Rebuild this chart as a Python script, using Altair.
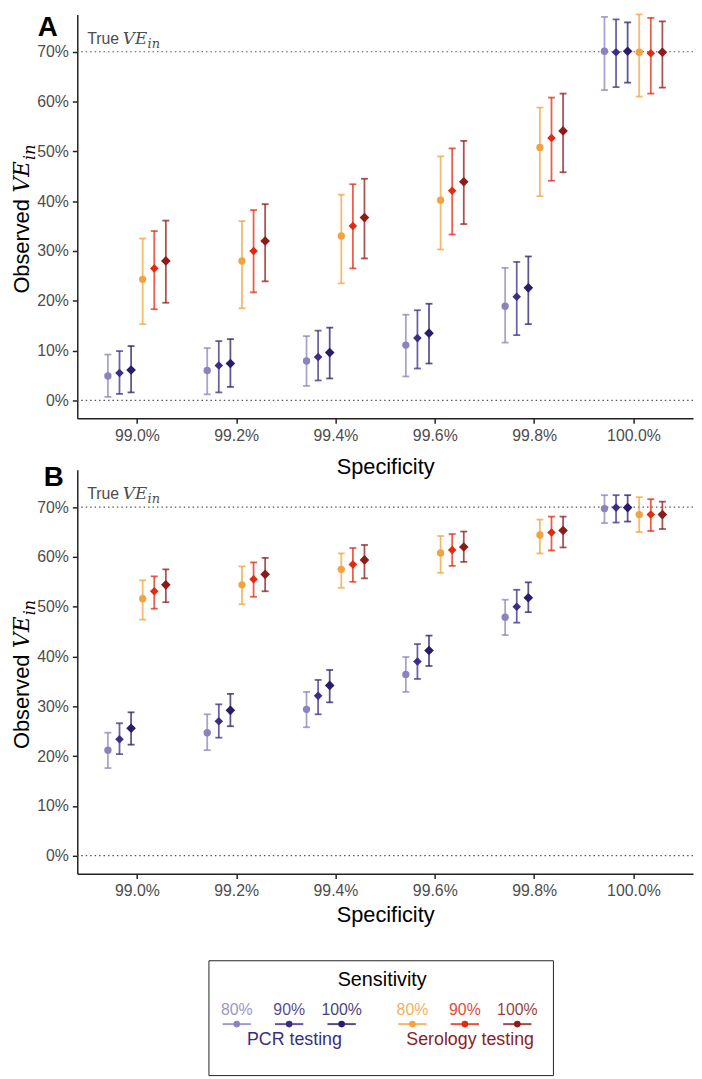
import altair as alt
import pandas as pd

specificity = ["99.0%", "99.2%", "99.4%", "99.6%", "99.8%", "100.0%"]
series = ["PCR 80%", "PCR 90%", "PCR 100%", "Serology 80%", "Serology 90%", "Serology 100%"]
sensitivity = ["80%", "90%", "100%", "80%", "90%", "100%"]
sens_levels = ["80%", "90%", "100%"]
testing = ["PCR testing"] * 3 + ["Serology testing"] * 3
testing_levels = ["PCR testing", "Serology testing"]
series_colors = ["#8a84bd", "#3e2d86", "#2a1c68", "#f2a33f", "#e3290f", "#8c1c1a"]
ref_lines = [0, 70]
y_ticks = [0, 10, 20, 30, 40, 50, 60, 70]

# (estimate, lower, upper) in %, one tuple per specificity level
A_PCR80 = [(4.9, 0.7, 9.2), (6.0, 1.2, 10.5), (7.9, 2.9, 12.9), (11.1, 4.8, 17.2), (18.9, 11.6, 26.6), (70.1, 62.3, 77.0)]
A_PCR90 = [(5.5, 1.3, 9.9), (7.0, 1.6, 11.9), (8.7, 4.0, 14.0), (12.5, 6.4, 18.1), (20.8, 13.1, 27.8), (69.9, 62.9, 76.5)]
A_PCR100 = [(6.1, 1.6, 10.9), (7.4, 2.7, 12.3), (9.6, 4.4, 14.6), (13.5, 7.4, 19.4), (22.6, 15.3, 28.9), (70.1, 63.8, 75.9)]
A_SER80 = [(24.3, 15.3, 32.5), (28.0, 18.5, 36.0), (33.0, 23.5, 41.3), (40.2, 30.3, 49.0), (50.8, 41.0, 58.8), (69.9, 61.0, 77.5)]
A_SER90 = [(26.5, 18.3, 34.0), (30.0, 21.7, 38.2), (35.0, 26.5, 43.4), (42.1, 33.3, 50.6), (52.7, 44.1, 60.8), (69.7, 61.6, 76.8)]
A_SER100 = [(28.0, 19.6, 36.1), (32.0, 23.9, 39.4), (36.7, 28.5, 44.5), (43.9, 35.4, 52.1), (54.1, 45.8, 61.6), (69.9, 62.8, 76.1)]

B_PCR80 = [(21.2, 17.6, 24.7), (24.7, 21.2, 28.4), (29.4, 25.8, 32.9), (36.4, 32.9, 39.9), (47.9, 44.3, 51.4), (69.7, 66.8, 72.4)]
B_PCR90 = [(23.4, 20.4, 26.6), (27.0, 23.7, 30.4), (32.1, 28.4, 35.3), (39.0, 35.5, 42.5), (50.0, 46.8, 53.4), (69.9, 66.9, 72.4)]
B_PCR100 = [(25.6, 22.3, 28.8), (29.2, 26.0, 32.5), (34.2, 30.8, 37.3), (41.2, 38.1, 44.2), (51.8, 48.9, 54.9), (69.9, 67.1, 72.4)]
B_SER80 = [(51.6, 47.4, 55.3), (54.4, 50.5, 58.1), (57.5, 53.8, 60.7), (60.8, 56.8, 64.2), (64.4, 60.7, 67.5), (68.5, 65.0, 72.0)]
B_SER90 = [(53.1, 49.6, 56.1), (55.5, 52.0, 58.9), (58.5, 55.0, 61.8), (61.4, 58.2, 64.6), (64.9, 61.3, 68.1), (68.5, 65.2, 71.6)]
B_SER100 = [(54.4, 50.9, 57.5), (56.5, 53.1, 59.8), (59.4, 55.7, 62.4), (62.0, 59.0, 65.1), (65.3, 61.9, 68.1), (68.5, 65.6, 71.1)]

SANS = "Liberation Sans"
MATH = "DejaVu Serif"
W, H = 622, 408
DODGE = 0.7  # total dodge width, in category units
CAP = 0.035  # half cap width, in category units


def panel_df(rows):
    recs = []
    n = len(rows)
    for si, vals in enumerate(rows):
        for k, (est, lo, hi) in enumerate(vals):
            xpos = (k + 1) + (si - (n - 1) / 2) * DODGE / n
            recs.append(dict(spec=specificity[k], series=series[si], sens=sensitivity[si],
                             xpos=xpos, est=est, lo=lo, hi=hi))
    return pd.DataFrame(recs)


yscale = alt.Scale(domain=[-3.6, 77.5], nice=False, zero=False, padding=0)
xscale = alt.Scale(domain=[0.4, len(specificity) + 0.6], nice=False, zero=False, padding=0)
color = alt.Color("series:N", scale=alt.Scale(domain=series, range=series_colors), legend=None)
label_expr = "[" + ",".join("'%s'" % s for s in specificity) + "][round(datum.value) - 1]"


def panel(rows, letter, letter_x, letter_y, title_pad):
    df = panel_df(rows)
    X = alt.X("xpos:Q", scale=xscale,
              axis=alt.Axis(title="Specificity", values=list(range(1, len(specificity) + 1)),
                            labelExpr=label_expr, grid=False, labelAngle=0, titlePadding=title_pad))
    base = alt.Chart(df).transform_calculate(xl=f"datum.xpos - {CAP}", xr=f"datum.xpos + {CAP}")
    bars = base.mark_rule(strokeWidth=1.8, opacity=0.75).encode(
        x=X,
        y=alt.Y("lo:Q", scale=yscale,
                axis=alt.Axis(values=y_ticks, labelExpr="datum.value + '%'", title=None, grid=False)),
        y2="hi:Q", color=color)
    cap_lo = base.mark_rule(strokeWidth=1.8, opacity=0.75).encode(
        x=alt.X("xl:Q", scale=xscale), x2="xr:Q", y=alt.Y("lo:Q", scale=yscale), color=color)
    cap_hi = base.mark_rule(strokeWidth=1.8, opacity=0.75).encode(
        x=alt.X("xl:Q", scale=xscale), x2="xr:Q", y=alt.Y("hi:Q", scale=yscale), color=color)
    pts = base.mark_point(filled=True, opacity=1).encode(
        x=X, y=alt.Y("est:Q", scale=yscale), color=color,
        shape=alt.Shape("sens:N", scale=alt.Scale(domain=sens_levels, range=["circle", "diamond", "diamond"]), legend=None),
        size=alt.Size("sens:O", scale=alt.Scale(domain=sens_levels, range=[55, 95, 95]), legend=None))
    refs = alt.Chart(pd.DataFrame({"v": ref_lines})).mark_rule(
        strokeDash=[1.5, 3], color="#555555", strokeWidth=1.2).encode(y=alt.Y("v:Q", scale=yscale))
    one = alt.Chart(pd.DataFrame({"t": [""]}))
    true_lbl = one.mark_text(text="True", font=SANS, fontSize=16, color="#4d4d4d", align="left",
                             baseline="alphabetic", dy=-8).encode(x=alt.value(10), y=alt.datum(70))
    true_ve = one.mark_text(text="VE", font=MATH, fontStyle="italic", fontSize=17, color="#4d4d4d",
                            align="left", baseline="alphabetic", dy=-8).encode(x=alt.value(46), y=alt.datum(70))
    true_in = one.mark_text(text="in", font=MATH, fontStyle="italic", fontSize=13, color="#4d4d4d",
                            align="left", baseline="alphabetic", dy=-4).encode(x=alt.value(71), y=alt.datum(70))
    lab = one.mark_text(text=letter, font=SANS, fontSize=28, fontWeight="bold", color="black",
                        align="left", baseline="top").encode(x=alt.value(letter_x), y=alt.value(letter_y))
    yt1 = one.mark_text(text="Observed", font=SANS, fontSize=22, color="black", angle=270,
                        align="left", baseline="alphabetic").encode(x=alt.value(-49), y=alt.value(282))
    yt2 = one.mark_text(text="VE", font=MATH, fontStyle="italic", fontSize=22, color="black", angle=270,
                        align="left", baseline="alphabetic").encode(x=alt.value(-49), y=alt.value(180))
    yt3 = one.mark_text(text="in", font=MATH, fontStyle="italic", fontSize=16, color="black", angle=270,
                        align="left", baseline="alphabetic").encode(x=alt.value(-43), y=alt.value(147))
    return alt.layer(refs, bars, cap_lo, cap_hi, pts, true_lbl, true_ve, true_in, lab, yt1, yt2, yt3).properties(
        width=W, height=H)


panelA = panel([A_PCR80, A_PCR90, A_PCR100, A_SER80, A_SER90, A_SER100], "A", -40, 0, 14)
panelB = panel([B_PCR80, B_PCR90, B_PCR100, B_SER80, B_SER90, B_SER100], "B", -34, -6, 6)

# ---- custom legend (two groups of three entries) ----
GROUP_GAP = 3.35  # distance between the two legend groups, in entry units
leg_recs = []
for i, s in enumerate(series):
    g = testing_levels.index(testing[i])
    k = sens_levels.index(sensitivity[i])
    leg_recs.append(dict(series=s, sens=sensitivity[i], testing=testing[i], lpos=k + g * GROUP_GAP))
leg_df = pd.DataFrame(leg_recs)
grp_df = pd.DataFrame({"testing": testing_levels,
                       "lpos": [1.1 + g * GROUP_GAP for g in range(len(testing_levels))]})
lscale = alt.Scale(domain=[-3.04, 8.70], nice=False, zero=False, padding=0)
LX = alt.X("lpos:Q", scale=lscale, axis=None)
one = alt.Chart(pd.DataFrame({"b": [1]}))
box = one.mark_rect(fill="white", fillOpacity=0, stroke="#222222", strokeWidth=1).encode(
    x=alt.value(133), x2=alt.value(481), y=alt.value(36), y2=alt.value(152))
ltitle = one.mark_text(text="Sensitivity", font=SANS, fontSize=20, color="black",
                       align="center", baseline="middle").encode(x=alt.value(308), y=alt.value(56))
lbase = alt.Chart(leg_df).transform_calculate(l0="datum.lpos - 0.27", l1="datum.lpos + 0.27")
llabels = lbase.mark_text(font=SANS, fontSize=16, baseline="middle", align="center", opacity=0.85).encode(
    x=LX, y=alt.value(86), text="sens:N", color=color)
llines = lbase.mark_rule(strokeWidth=2, opacity=0.8).encode(
    x=alt.X("l0:Q", scale=lscale, axis=None), x2="l1:Q", y=alt.value(100), color=color)
lpts = lbase.mark_point(filled=True, opacity=1, size=45, shape="circle").encode(
    x=LX, y=alt.value(100), color=color)
lgrp_pcr = alt.Chart(grp_df).transform_filter(alt.datum.testing == "PCR testing").mark_text(
    font=SANS, fontSize=18, baseline="middle", align="center", color="#3b2e82").encode(
    x=LX, y=alt.value(116), text="testing:N")
lgrp_ser = alt.Chart(grp_df).transform_filter(alt.datum.testing == "Serology testing").mark_text(
    font=SANS, fontSize=18, baseline="middle", align="center", color="#8b2222").encode(
    x=LX, y=alt.value(116), text="testing:N")
legend = alt.layer(box, ltitle, llabels, llines, lpts, lgrp_pcr, lgrp_ser).properties(width=W, height=153)

chart = alt.vconcat(panelA, panelB, legend, spacing=52, bounds="flush").properties(
    padding={"left": 3, "top": 0, "right": 0, "bottom": 0}
).configure_view(stroke=None).configure_axis(
    labelFont=SANS, titleFont=SANS, labelFontSize=16, labelColor="#4d4d4d",
    titleFontSize=22, titleFontWeight="normal", titleColor="black",
    domainColor="#222222", domainWidth=1.5, tickColor="#222222", tickWidth=1.5, tickSize=5,
    labelPadding=4, titlePadding=14
).configure_text(font=SANS)

chart.save("out.html", embed_options={"renderer": "svg", "actions": False})
